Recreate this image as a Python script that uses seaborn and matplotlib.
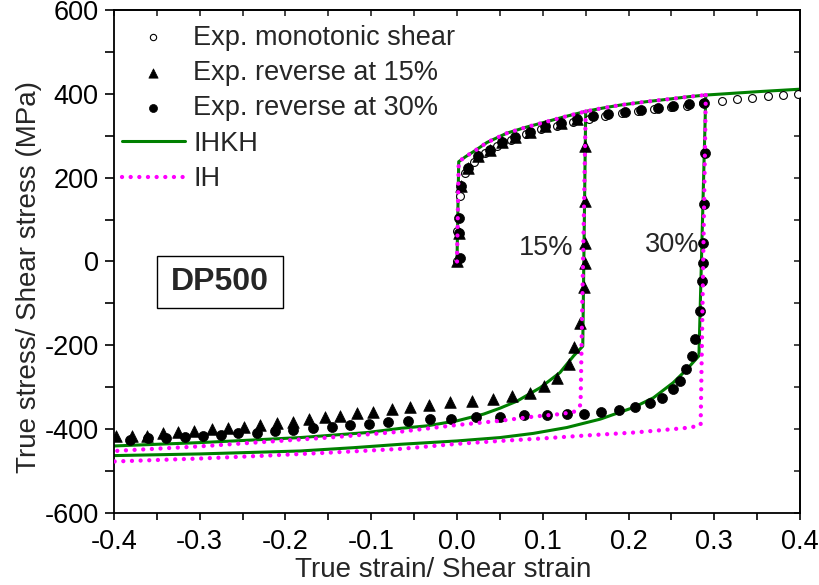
import numpy as np
import pandas as pd
import matplotlib
matplotlib.use("Agg")
import matplotlib.pyplot as plt
from matplotlib.ticker import MultipleLocator, FormatStrFormatter
from matplotlib.patches import Rectangle
from matplotlib.colors import same_color
import seaborn as sns

# ---------------- data ----------------
# Experimental: monotonic shear (open circles)
mono_x = [0.000, 0.000, 0.003, 0.009, 0.020, 0.033, 0.047, 0.063, 0.080, 0.098,
          0.117, 0.135, 0.154, 0.173, 0.192, 0.211, 0.230, 0.249, 0.268, 0.287,
          0.309, 0.326, 0.344, 0.362, 0.380, 0.398]
mono_y = [0, 72, 156, 211, 238, 258, 275, 290, 303, 315,
          324, 333, 340, 347, 353, 358, 363, 368, 372, 377,
          384, 388, 391, 394, 398, 400]

# Experimental: reverse at 15% (triangles)
r15_x = [0.000, 0.002, 0.005, 0.013, 0.025, 0.038, 0.052, 0.068, 0.085, 0.103,
         0.121, 0.140,
         0.149, 0.149, 0.149, 0.149, 0.148, 0.143, 0.136, 0.130, 0.116, 0.101,
         0.085, 0.064, 0.042, 0.017, -0.008, -0.033, -0.055, -0.076, -0.098,
         -0.117, -0.136, -0.154, -0.173, -0.191, -0.210, -0.230, -0.248, -0.267,
         -0.286, -0.306, -0.325, -0.343, -0.361, -0.379, -0.397]
r15_y = [0, 68, 179, 223, 251, 267, 284, 298, 310, 322,
         330, 340,
         275, 144, 45, -3, -60, -146, -205, -245, -277, -297,
         -313, -320, -329, -332, -336, -343, -348, -352, -359,
         -362, -368, -372, -376, -383, -386, -390, -394, -396,
         -400, -404, -406, -410, -416, -416, -417]

# Experimental: reverse at 30% (filled circles)
r30_x = [0.003, 0.002, 0.002, 0.005, 0.013, 0.025, 0.038, 0.052, 0.068, 0.085,
         0.103, 0.121, 0.140, 0.158, 0.176, 0.196, 0.215, 0.234, 0.252, 0.271,
         0.288,
         0.289, 0.288, 0.287, 0.287, 0.285, 0.283, 0.278, 0.274, 0.267, 0.260,
         0.252, 0.239, 0.225, 0.208, 0.189, 0.168, 0.148, 0.128, 0.105, 0.078,
         0.050, 0.022, -0.007, -0.032, -0.057, -0.080, -0.102, -0.125, -0.146,
         -0.168, -0.191, -0.212, -0.233, -0.255, -0.275, -0.296, -0.317, -0.339,
         -0.360, -0.381]
r30_y = [9, 68, 104, 179, 223, 251, 267, 284, 298, 310,
         322, 330, 340, 346, 352, 357, 362, 367, 371, 375,
         379,
         259, 136, 44, -3, -47, -118, -184, -225, -257, -285,
         -305, -325, -338, -346, -354, -360, -363, -363, -367, -367,
         -370, -372, -375, -376, -380, -384, -388, -390, -394,
         -398, -402, -405, -408, -410, -414, -416, -418, -422,
         -422, -426]

# IHKH model (green solid): loading and two reversals
ihkh_load_x = [0.000, 0.002, 0.010, 0.020, 0.035, 0.058, 0.080, 0.100, 0.125, 0.150,
               0.170, 0.190, 0.220, 0.250, 0.270, 0.290, 0.320, 0.350, 0.375, 0.400]
ihkh_load_y = [0, 238, 250, 263, 284, 306, 320, 331, 345, 358,
               366, 373, 381, 388, 393, 397, 401, 405, 408, 411]
ihkh_r15_x = [0.150, 0.1466, 0.136, 0.120, 0.097, 0.070, 0.050, 0.031, 0.000, -0.035,
              -0.066, -0.105, -0.150, -0.183, -0.250, -0.300, -0.350, -0.400]
ihkh_r15_y = [358, -202, -225, -265, -301, -333, -350, -364, -380, -392,
              -398, -408, -415, -420, -427, -432, -436, -440]
ihkh_r30_x = [0.290, 0.282, 0.268, 0.252, 0.229, 0.206, 0.167, 0.128, 0.089, 0.050,
              0.000, -0.066, -0.120, -0.183, -0.250, -0.300, -0.350, -0.400]
ihkh_r30_y = [397, -225, -257, -289, -325, -348, -376, -396, -410, -420,
              -428, -436, -444, -452, -456, -459, -461, -463]

# IH model (magenta dotted): loading and two reversals
ih_load_x = [0.000, 0.002, 0.010, 0.020, 0.035, 0.058, 0.080, 0.100, 0.125, 0.150,
             0.170, 0.190, 0.220, 0.250, 0.270, 0.290]
ih_load_y = [0, 238, 250, 263, 284, 306, 320, 331, 345, 358,
             366, 373, 381, 388, 393, 397]
ih_r15_x = [0.150, 0.144, 0.136, 0.120, 0.089, 0.050, 0.000, -0.066, -0.150, -0.222,
            -0.300, -0.400]
ih_r15_y = [358, -342, -359, -364, -370, -380, -390, -406, -420, -430,
            -441, -452]
ih_r30_x = [0.290, 0.284, 0.272, 0.240, 0.206, 0.150, 0.100, 0.050, 0.000, -0.066,
            -0.150, -0.222, -0.300, -0.400]
ih_r30_y = [397, -390, -396, -402, -408, -415, -422, -428, -435, -447,
            -456, -463, -470, -477]

x_ticks = [-0.4, -0.3, -0.2, -0.1, 0.0, 0.1, 0.2, 0.3, 0.4]
y_ticks = [-600, -400, -200, 0, 200, 400, 600]

# ---------------- plotting ----------------
sns.set_style("ticks")
plt.rcParams['font.family'] = ['Liberation Sans', 'DejaVu Sans']
plt.rcParams['axes.unicode_minus'] = False

fig = plt.figure(figsize=(8.19, 5.85), dpi=100)
ax = fig.add_axes([0.139, 0.123, 0.838, 0.860])

GREEN = "#008000"
MAG = "#ff00ff"

def seg(x, y):
    return pd.DataFrame({"x": x, "y": y})

# IHKH lines
for i, (xx, yy) in enumerate([(ihkh_load_x, ihkh_load_y), (ihkh_r15_x, ihkh_r15_y),
                              (ihkh_r30_x, ihkh_r30_y)]):
    sns.lineplot(data=seg(xx, yy), x="x", y="y", sort=False, estimator=None, ax=ax,
                 color=GREEN, linewidth=2.2, zorder=2,
                 label="IHKH" if i == 0 else None)

# Experimental markers
sns.scatterplot(data=seg(mono_x, mono_y), x="x", y="y", ax=ax, marker="o",
                facecolor="white", edgecolor="black", linewidth=0.8, s=32, zorder=3,
                label="Exp. monotonic shear")
sns.scatterplot(data=seg(r15_x, r15_y), x="x", y="y", ax=ax, marker="^",
                color="black", edgecolor="black", linewidth=0.5, s=70, zorder=4,
                label="Exp. reverse at 15%")
sns.scatterplot(data=seg(r30_x, r30_y), x="x", y="y", ax=ax, marker="o",
                color="black", edgecolor="black", linewidth=0.5, s=52, zorder=4,
                label="Exp. reverse at 30%")

# IH lines (dotted, drawn on top)
for i, (xx, yy) in enumerate([(ih_load_x, ih_load_y), (ih_r15_x, ih_r15_y),
                              (ih_r30_x, ih_r30_y)]):
    sns.lineplot(data=seg(xx, yy), x="x", y="y", sort=False, estimator=None, ax=ax,
                 color=MAG, linewidth=3.1, zorder=5,
                 label="IH" if i == 0 else None)
for line in ax.get_lines():
    if same_color(line.get_color(), MAG):
        line.set_dash_capstyle("round")
        line.set_linestyle((0, (0.01, 2.0)))

ax.set_xlim(-0.4, 0.4)
ax.set_ylim(-600, 600)
ax.set_xticks(x_ticks)
ax.set_yticks(y_ticks)
ax.xaxis.set_major_formatter(FormatStrFormatter('%.1f'))
ax.xaxis.set_minor_locator(MultipleLocator(0.05))
ax.yaxis.set_minor_locator(MultipleLocator(100))
ax.tick_params(axis='both', which='both', direction='out', width=1.2,
               labelsize=19.5, colors='black', top=False, right=False)
ax.tick_params(axis='x', which='both', length=4.8, pad=6.5)
ax.tick_params(axis='y', which='both', length=6.5, pad=4.5)
for s in ax.spines.values():
    s.set_visible(True)
    s.set_linewidth(1.3)
    s.set_color('black')

# inward ticks on top/right via secondary axes
secx = ax.secondary_xaxis('top')
secx.set_xticks(x_ticks)
secx.xaxis.set_minor_locator(MultipleLocator(0.05))
secx.tick_params(which='both', direction='in', length=4, width=1.2, labeltop=False)
secx.spines['top'].set_linewidth(1.3)
secy = ax.secondary_yaxis('right')
secy.set_yticks(y_ticks)
secy.yaxis.set_minor_locator(MultipleLocator(100))
secy.tick_params(which='both', direction='in', length=4, width=1.2, labelright=False)
secy.spines['right'].set_linewidth(1.3)

ax.set_xlabel("True strain/ Shear strain", fontsize=20)
ax.set_ylabel("True stress/ Shear stress (MPa)", fontsize=20)
ax.xaxis.set_label_coords(0.48, -0.088)
ax.yaxis.set_label_coords(-0.105, 0.469)

# Legend
handles, labels = ax.get_legend_handles_labels()
order = ["Exp. monotonic shear", "Exp. reverse at 15%", "Exp. reverse at 30%", "IHKH", "IH"]
hmap = dict(zip(labels, handles))
leg = ax.legend([hmap[k] for k in order], order, loc='upper left',
                bbox_to_anchor=(0.012, 0.971), borderaxespad=0, borderpad=0,
                frameon=False, fontsize=19.5, handlelength=2.32, handletextpad=0.3,
                labelspacing=0.35, markerscale=0.8)

# Annotations
ax.add_patch(Rectangle((-0.350, -110), 0.147, 122, facecolor='white',
                       edgecolor='black', linewidth=1.0, zorder=6))
ax.text(-0.2765, -49, "DP500", fontsize=23, fontweight='bold', ha='center',
        va='center', zorder=7)
ax.text(0.104, 31, "15%", fontsize=19.5, ha='center', va='center')
ax.text(0.251, 40, "30%", fontsize=19.5, ha='center', va='center')

fig.savefig("out.png", dpi=100)
